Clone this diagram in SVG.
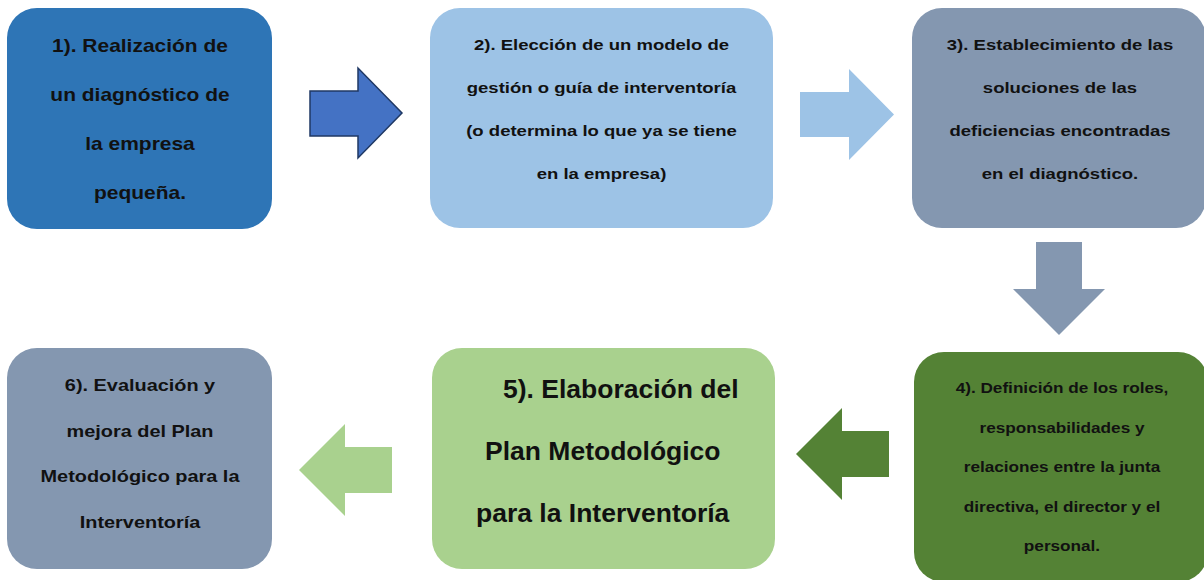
<svg xmlns="http://www.w3.org/2000/svg" width="1204" height="580" viewBox="0 0 1204 580">
<style>
text{font-family:"Liberation Sans",Arial,sans-serif;font-weight:bold;fill:#111;text-anchor:middle}
.t1{font-size:18px}
.t2{font-size:15px}
.t6{font-size:17px}
.t4{font-size:15px}
.t5{font-size:26.5px;text-anchor:start}
</style>
<rect width="1204" height="580" fill="#ffffff"/>
<g id="connectors">
<polygon points="310,91 358,91 358,68 402,113 358,158 358,136 310,136" fill="#4472C4" stroke="#1F3864" stroke-width="1.5" stroke-linejoin="miter"/>
<polygon points="800,92 849,92 849,69 894,114.5 849,160 849,137 800,137" fill="#9DC3E6"/>
<polygon points="1036,242 1082,242 1082,289 1105,289 1059,335 1013,289 1036,289" fill="#8497B0"/>
<polygon points="889,431 842,431 842,408 796,454 842,500 842,477 889,477" fill="#548235"/>
<polygon points="392,447 345,447 345,424 299,470 345,516 345,493 392,493" fill="#A9D18E"/>
</g>
<g id="node1">
<rect x="7" y="8" width="265" height="221" rx="30" fill="#2E75B6"/>
<g transform="translate(140 0) scale(1.165 1)">
<text class="t1" x="0" y="52">1). Realización de</text>
<text class="t1" x="0" y="101">un diagnóstico de</text>
<text class="t1" x="0" y="150">la empresa</text>
<text class="t1" x="0" y="199">pequeña.</text>
</g>
</g>
<g id="node2">
<rect x="430" y="8" width="343" height="220" rx="30" fill="#9DC3E6"/>
<g transform="translate(601.5 0) scale(1.235 1)">
<text class="t2" x="0" y="50">2). Elección de un modelo de</text>
<text class="t2" x="0" y="93">gestión o guía de interventoría</text>
<text class="t2" x="0" y="136">(o determina lo que ya se tiene</text>
<text class="t2" x="0" y="179">en la empresa)</text>
</g>
</g>
<g id="node3">
<rect x="912" y="8" width="294" height="220" rx="30" fill="#8497B0"/>
<g transform="translate(1060 0) scale(1.235 1)">
<text class="t2" x="0" y="50">3). Establecimiento de las</text>
<text class="t2" x="0" y="93">soluciones de las</text>
<text class="t2" x="0" y="136">deficiencias encontradas</text>
<text class="t2" x="0" y="179">en el diagnóstico.</text>
</g>
</g>
<g id="node4">
<rect x="914" y="352" width="294" height="230" rx="30" fill="#548235"/>
<g transform="translate(1062 0) scale(1.145 1)">
<text class="t4" x="0" y="393">4). Definición de los roles,</text>
<text class="t4" x="0" y="433">responsabilidades y</text>
<text class="t4" x="0" y="472">relaciones entre la junta</text>
<text class="t4" x="0" y="512">directiva, el director y el</text>
<text class="t4" x="0" y="551">personal.</text>
</g>
</g>
<g id="node5">
<rect x="432" y="348" width="343" height="221" rx="30" fill="#A9D18E"/>
<text class="t5" x="503" y="398">5). Elaboración del</text>
<text class="t5" x="485" y="460">Plan Metodológico</text>
<text class="t5" x="476" y="522">para la Interventoría</text>
</g>
<g id="node6">
<rect x="7" y="348" width="265" height="221" rx="30" fill="#8497B0"/>
<g transform="translate(140 0) scale(1.17 1)">
<text class="t6" x="0" y="391">6). Evaluación y</text>
<text class="t6" x="0" y="437">mejora del Plan</text>
<text class="t6" x="0" y="482">Metodológico para la</text>
<text class="t6" x="0" y="528">Interventoría</text>
</g>
</g>
</svg>
